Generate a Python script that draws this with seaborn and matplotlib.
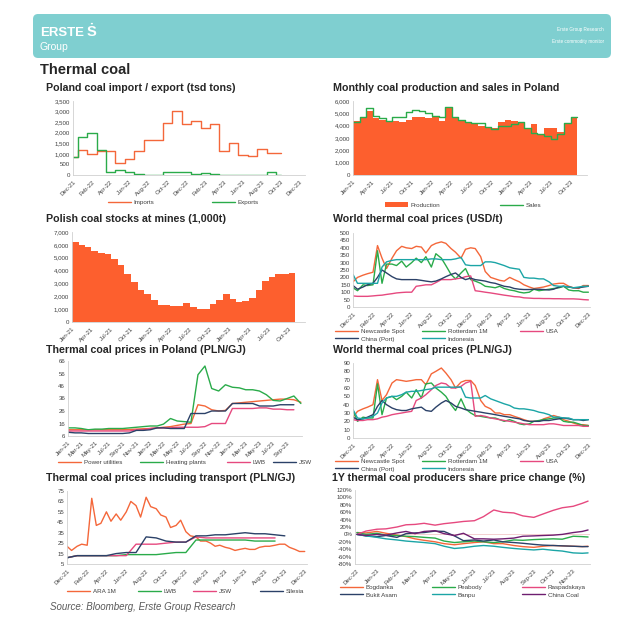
"""
Erste commodity monitor - thermal coal page, rebuilt with seaborn.
"""

import matplotlib
matplotlib.use('Agg')
import matplotlib.pyplot as plt
import matplotlib.ticker as mticker
from matplotlib.patches import FancyBboxPatch, Patch
import seaborn as sns
import numpy as np
import pandas as pd

sns.set_theme(style='white')
plt.rcParams['font.family'] = ['Liberation Sans', 'DejaVu Sans']
plt.rcParams['axes.unicode_minus'] = False

nan = np.nan

# ---------------------------------------------------------------- data
# Poland coal import / export, monthly Dec-21 .. Oct-23 (tsd tons)
trade_months = pd.date_range('2021-12-01', periods=23, freq='MS')
imports = [850, 1200, 1000, 1150, 1150, 550, 750, 1150, 1650, 1650, 2450, 3050,
           2400, 2550, 2200, 2400, 1150, 1500, 950, 900, 1250, 1050, 1050]
exports = [850, 1800, 2000, 1200, 150, 250, 150, 30, 0, 0, 150, 150,
           150, 30, 100, 50, 0, 0, 0, 0, 0, 150, 0]

# Monthly coal production and sales, Jan-21 .. Oct-23
prod_months = pd.date_range('2021-01-01', periods=34, freq='MS')
production = [4400, 4600, 5200, 4600, 4500, 4400, 4400, 4300, 4500, 4700, 4700, 4600,
              4800, 4400, 5500, 4700, 4500, 4300, 4100, 4000, 3900, 3800, 4300, 4500,
              4400, 4300, 3700, 4100, 3300, 3800, 3800, 3500, 4200, 4700]
sales = [4300, 4700, 5400, 4800, 4600, 4400, 4700, 4700, 5100, 5300, 5200, 5000,
         4800, 4700, 5500, 4700, 4500, 4300, 4200, 4200, 3900, 3700, 4000, 4000,
         4100, 4300, 3800, 3400, 3300, 3200, 2950, 3300, 4200, 4700]

# Polish coal stocks at mines, Jan-21 .. Oct-23 (1,000t)
stocks = [6200, 6000, 5800, 5500, 5400, 5300, 4900, 4400, 3700, 3100, 2500, 2200,
          1700, 1350, 1300, 1250, 1250, 1450, 1150, 1000, 1050, 1400, 1750, 2200,
          1800, 1550, 1650, 1850, 2500, 3200, 3500, 3750, 3750, 3800]

# World thermal coal prices, semi-monthly Dec-21 .. Dec-23
world_dates = pd.date_range('2021-12-01', '2023-12-01', freq='SMS')
usd_newcastle = [170, 200, 215, 225, 235, 415, 330, 260, 330, 380, 410, 400, 395, 410, 405,
                 365, 415, 430, 440, 430, 395, 370, 330, 390, 400, 395, 340, 240, 200, 190,
                 180, 175, 200, 185, 170, 150, 135, 125, 130, 135, 145, 155, 160, 160, 140,
                 130, 125, 145, 145]
usd_rotterdam = [130, 110, 150, 145, 150, 380, 160, 290, 290, 280, 310, 270, 300, 330, 300,
                 340, 270, 360, 330, 280, 220, 190, 230, 260, 185, 175, 160, 140, 135, 130,
                 140, 125, 115, 110, 100, 95, 100, 120, 110, 115, 120, 125, 130, 140, 115,
                 110, 110, 100, 100]
usd_usa = [75, 72, 72, 72, 75, 78, 80, 85, 90, 95, 98, 100, 100, 140, 145,
           150, 150, 165, 185, 185, 185, 190, 195, 205, 210, 110, 105, 100, 95, 90,
           85, 80, 75, 70, 68, 62, 60, 58, 58, 57, 57, 56, 56, 55, 55,
           55, 53, 50, 48]
usd_china = [145, 120, 135, 150, 160, 200, 250, 230, 205, 190, 185, 185, 185, 185, 180,
             175, 170, 175, 190, 205, 220, 230, 200, 185, 195, 185, 180, 175, 165, 160,
             150, 140, 135, 125, 120, 118, 118, 120, 120, 118, 115, 120, 135, 140, 135,
             130, 130, 135, 140]
usd_indonesia = [220, 160, 160, 160, 160, 160, 270, 305, 315, 320, 320, 320, 320, 320, 320,
                 320, 325, 325, 320, 320, 320, 325, 335, 285, 280, 280, 280, 305, 305, 300,
                 290, 280, 265, 260, 255, 200, 195, 195, 190, 190, 170, 145, 140, 140, 135,
                 130, 135, 140, 140]

pln_newcastle = [25, 32, 35, 37, 40, 70, 45, 52, 66, 70, 69, 68, 69, 70, 70,
                 64, 77, 80, 84, 78, 70, 60, 67, 69, 69, 63, 45, 38, 35, 30,
                 30, 28, 28, 26, 24, 22, 20, 20, 20, 23, 25, 27, 25, 22, 20,
                 18, 16, 16, 15]
pln_rotterdam = [33, 20, 25, 24, 24, 65, 28, 48, 50, 46, 50, 55, 48, 58, 48,
                 65, 66, 60, 55, 50, 40, 33, 47, 35, 30, 27, 26, 25, 24, 24,
                 22, 20, 22, 20, 17, 16, 17, 20, 21, 22, 23, 24, 24, 20, 19,
                 19, 17, 15, 15]
pln_usa = [22, 21, 21, 22, 22, 23, 25, 26, 28, 29, 30, 31, 32, 45, 48,
           52, 58, 63, 66, 65, 60, 60, 62, 66, 68, 26, 27, 26, 24, 23,
           22, 21, 20, 19, 18, 17, 16, 16, 16, 16, 17, 17, 16, 15, 15,
           15, 15, 14, 14]
pln_china = [25, 22, 23, 25, 28, 38, 45, 40, 36, 34, 33, 33, 35, 36, 37,
             33, 32, 37, 42, 45, 42, 38, 36, 34, 33, 32, 31, 30, 29, 28,
             27, 26, 25, 24, 23, 21, 20, 20, 20, 21, 21, 22, 23, 24, 23,
             22, 22, 21, 22]
pln_indonesia = [34, 24, 23, 24, 26, 30, 42, 48, 50, 50, 52, 55, 56, 56, 57,
                 58, 59, 61, 61, 61, 61, 61, 61, 49, 48, 48, 48, 51, 47, 45,
                 43, 41, 39, 36, 35, 35, 34, 33, 31, 30, 28, 25, 25, 24, 24,
                 22, 22, 22, 22]

# Thermal coal prices in Poland (PLN/GJ), monthly Jan-21 .. Nov-23
pl_months = pd.date_range('2021-01-01', periods=35, freq='MS')
power_utilities = [11, 11, 11, 11, 11, 11, 11, 11, 11, 11.2, 11.5, 11.8, 12, 12.5, 13, 13.5, 14.5,
                   15.5, 16, 31, 30, 27, 26, 26.5, 32, 32.5, 33, 33.5, 34, 34.5, 35, 35.5, 35.5,
                   35, 33]
heating_plants = [12.5, 12.5, 12, 11, 11.5, 11.5, 12, 12, 12, 12.5, 13, 13.5, 14, 14, 15.5, 20, 18,
                  17.5, 17, 55, 62, 44, 42, 47, 45, 44.5, 43, 43, 42, 39, 34.5, 34, 36, 38, 32]
lwb = [10, 10, 10, 10, 10, 10, 10, 10, 10, 10, 11, 11, 12, 12.5, 12.5, 12.5, 13, 13, 13, 13,
       13.5, 16, 16, 16, 28, 28, 28, 28, 28.5, 28.5, 27.5, 27.5, 27, 27, nan]
jsw = [9, 8.5, 8.5, 8, 8, 8, 8, 8, 8, 8.5, 10.5, 10.5, 11, 12.5, 12.5, 12, 12, 12, 24, 24,
       24, 26, 26, 26, 32, 32, 32, 32, 30, 30, 30, 31, 31, 31, nan]

# Thermal coal prices including transport (PLN/GJ)
ara_1m = [22, 18, 22, 24, 23, 68, 42, 44, 55, 46, 53, 47, 55, 65, 61, 50, 69, 60, 58, 52,
          50, 40, 42, 47, 36, 32, 31, 27, 27, 25, 22, 23, 21, 20, 18, 19, 20, 19, 19, 21,
          22, 22, 23, 24, 24, 21, 19, 17, 17]
tr_months = pd.date_range('2021-12-01', periods=23, freq='MS')
tr_lwb = [11, 13, 13, 13, 13, 13, 14, 14, 14, 14, 15, 16, 16, 28, 28, 28, 28, 28, 28, 27,
          27, 27, nan]
tr_jsw = [11, 13, 13, 13, 13, 13, 13, 24, 24, 24, 25, 26, 26, 31, 30, 30, 30, 30, 30, 30,
          30, 30, nan]
tr_silesia = [11, 13, 13, 13, 13, 15, 16, 16, 31, 30, 27, 26, 26, 32, 32, 33, 33, 34, 35, 34,
              34, 33, 32]

# 1Y share price change (%), semi-monthly from Dec-22
share_dates = list(pd.date_range('2022-12-01', '2023-11-16', freq='SMS')) + [pd.Timestamp('2023-11-24')]
bogdanka = [5, 4, 8, 3, -2, -6, -12, -16, -20, -25, -28, -25, -22, -20, -25, -25, -30, -33,
            -35, -32, -30, -31, -32, -33, -32]
peabody = [5, 0, 3, -2, -3, -5, -6, -8, -10, -18, -22, -20, -18, -20, -22, -20, -15, -16,
           -14, -13, -12, -13, -5, -6, -7]
raspadskaya = [0, 9, 14, 15, 20, 26, 27, 30, 25, 29, 32, 35, 37, 48, 66, 60, 58, 50,
               46, 55, 65, 72, 76, 84, 90]
bukit_asam = [0, -4, -6, -3, -8, 2, 4, 5, 9, 8, -4, -17, -15, -18, -15, -20, -22, -24,
              -27, -29, -30, -31, -32, -33, -33]
banpu = [0, -4, -8, -12, -15, -18, -20, -22, -25, -32, -38, -36, -32, -30, -32, -35, -38, -40,
         -42, -40, -43, -45, -50, -51, -50]
china_coal = [0, -3, 0, -2, 4, 8, 2, 8, 10, 2, -3, 3, -12, -12, -13, -12, -10, -5,
              -4, -3, -2, 0, 5, 8, 12]

# ---------------------------------------------------------------- style
ORANGE = '#f4673a'
AREA = '#fd5f2e'
GREEN = '#2aab4a'
PINK = '#e6497f'
NAVY = '#2b4168'
TEAL = '#1ba5a6'
PURPLE = '#6e1e70'
BOX = '#7fcfd0'
TXT = '#404040'

W, H = 640, 640
fig = plt.figure(figsize=(6.4, 6.4), dpi=100)
fig.patch.set_facecolor('white')


def px_axes(left, top, right, bottom):
    """Create axes from pixel bounds (origin top left)."""
    ax = fig.add_axes([left / W, 1 - bottom / H, (right - left) / W, (bottom - top) / H])
    for side in ['top', 'right']:
        ax.spines[side].set_visible(False)
    for side in ['left', 'bottom']:
        ax.spines[side].set_color('#d0d0d0')
        ax.spines[side].set_linewidth(0.6)
    ax.tick_params(axis='both', labelsize=4.4, labelcolor=TXT, length=0, pad=2)
    ax.tick_params(axis='x', length=1.5, color='#d0d0d0', pad=1.5)
    ax.set_facecolor('white')
    ax.grid(False)
    return ax


def date_ticks(ax, ticks, lo, hi):
    ax.set_xlim(pd.Timestamp(lo), pd.Timestamp(hi))
    ax.set_xticks(ticks)
    ax.set_xticklabels([t.strftime('%b-%y') for t in ticks], rotation=45,
                       ha='right', va='top', rotation_mode='anchor')
    ax.set_xlabel('')
    ax.set_ylabel('')


def y_ticks(ax, lo, hi, step, fmt='{x:.0f}'):
    ax.set_ylim(lo, hi)
    ax.set_yticks(np.arange(lo, hi + step / 2, step))
    ax.yaxis.set_major_formatter(mticker.StrMethodFormatter(fmt))


def title(x, y, text):
    fig.text(x / W, 1 - y / H, text, fontsize=7.7, fontweight='bold', va='center', ha='left')


def legend_col(handles, labels, x, y):
    """One legend column; x = left of handle, y = centre of first row (pixels)."""
    fig.legend(handles, labels, loc='upper left', bbox_to_anchor=(x / W, 1 - (y - 3.6) / H),
               frameon=False, fontsize=4.5, handlelength=3.6, handletextpad=0.5,
               borderpad=0, borderaxespad=0, labelspacing=0.4, labelcolor=TXT)


def line(ax, x, y, color, **kw):
    sns.lineplot(x=x, y=y, ax=ax, color=color, lw=1.0, legend=False, **kw)
    return ax.lines[-1]


# ---------------------------------------------------------------- header
fig.add_artist(FancyBboxPatch((33 / W, 1 - 58 / H), (611 - 33) / W, 44 / H,
                              boxstyle='round,pad=0,rounding_size=0.008',
                              transform=fig.transFigure, facecolor=BOX, edgecolor='none'))
fig.text(40 / W, 1 - 33 / H, 'ERSTE', color='white', fontsize=9.5, fontweight='bold', va='center')
fig.text(87 / W, 1 - 32 / H, '\u1E60', color='white', fontsize=10.5, fontweight='bold', va='center',
         family=['Liberation Sans', 'DejaVu Sans'])
fig.text(40 / W, 1 - 47 / H, 'Group', color='white', fontsize=7.5, va='center')
fig.text(604 / W, 1 - 29 / H, 'Erste Group Research', color='white', fontsize=3.3,
         ha='right', va='center')
fig.text(604 / W, 1 - 42 / H, 'Erste commodity monitor', color='white', fontsize=3.3,
         ha='right', va='center')
fig.text(40 / W, 1 - 70 / H, 'Thermal coal', fontsize=10.5, fontweight='bold', va='center')

ticks_2m = pd.date_range('2021-12-01', '2023-12-01', freq='2MS')
ticks_q = pd.date_range('2021-01-01', '2023-10-01', freq='3MS')

# ---------------------------------------------------------------- 1 import / export
title(46, 88, 'Poland coal import / export (tsd tons)')
ax = px_axes(73, 101, 305, 175)
h_imp = line(ax, trade_months, imports, ORANGE, drawstyle='steps-mid')
h_exp = line(ax, trade_months, exports, GREEN, drawstyle='steps-mid')
y_ticks(ax, 0, 3500, 500, '{x:,.0f}')
date_ticks(ax, ticks_2m, '2021-12-01', '2023-12-17')
legend_col([h_imp], ['Imports'], 108, 203)
legend_col([h_exp], ['Exports'], 212, 203)

# ---------------------------------------------------------------- 2 production / sales
title(333, 88, 'Monthly coal production and sales in Poland')
ax = px_axes(353, 101, 587, 175)
step_x = list(prod_months) + [pd.Timestamp('2023-11-01')]
ax.fill_between(step_x, production + production[-1:], step='post', color=AREA, lw=0)
h_sales = line(ax, step_x, sales + sales[-1:], GREEN, drawstyle='steps-post')
y_ticks(ax, 0, 6000, 1000, '{x:,.0f}')
date_ticks(ax, ticks_q, '2021-01-01', '2023-12-16')
legend_col([Patch(facecolor=AREA, edgecolor='none')], ['Production'], 385, 206)
legend_col([h_sales], ['Sales'], 500, 206)

# ---------------------------------------------------------------- 3 stocks
title(46, 219, 'Polish coal stocks at mines (1,000t)')
ax = px_axes(72, 232, 305, 322)
ax.fill_between(step_x, stocks + stocks[-1:], step='post', color=AREA, lw=0)
y_ticks(ax, 0, 7000, 1000, '{x:,.0f}')
date_ticks(ax, ticks_q, '2021-01-01', '2023-12-16')

# ---------------------------------------------------------------- 4 world prices USD
title(333, 219, 'World thermal coal prices (USD/t)')
ax = px_axes(353, 233, 590, 307)
hs = [line(ax, world_dates, v, c) for v, c in
      [(usd_newcastle, ORANGE), (usd_rotterdam, GREEN), (usd_usa, PINK),
       (usd_china, NAVY), (usd_indonesia, TEAL)]]
y_ticks(ax, 0, 500, 50)
date_ticks(ax, ticks_2m, '2021-12-01', '2023-12-06')
legend_col([hs[0], hs[3]], ['Newcastle Spot', 'China (Port)'], 335, 332)
legend_col([hs[1], hs[4]], ['Rotterdam 1M', 'Indonesia'], 422, 332)
legend_col([hs[2]], ['USA'], 520, 332)

# ---------------------------------------------------------------- 5 Poland prices
title(46, 350, 'Thermal coal prices in Poland (PLN/GJ)')
ax = px_axes(68, 361, 302, 436)
hs = [line(ax, pl_months, v, c) for v, c in
      [(power_utilities, ORANGE), (heating_plants, GREEN), (lwb, PINK), (jsw, NAVY)]]
y_ticks(ax, 6, 66, 10)
date_ticks(ax, pd.date_range('2021-01-01', '2023-09-01', freq='2MS'), '2021-01-01', '2023-11-06')
for h, lab, x in zip(hs, ['Power utilities', 'Heating plants', 'LWB', 'JSW'], [58, 140, 227, 273]):
    legend_col([h], [lab], x, 463)

# ---------------------------------------------------------------- 6 world prices PLN
title(333, 350, 'World thermal coal prices (PLN/GJ)')
ax = px_axes(353, 363, 590, 438)
hs = [line(ax, world_dates, v, c) for v, c in
      [(pln_newcastle, ORANGE), (pln_rotterdam, GREEN), (pln_usa, PINK),
       (pln_china, NAVY), (pln_indonesia, TEAL)]]
y_ticks(ax, 0, 90, 10)
date_ticks(ax, ticks_2m, '2021-12-01', '2023-12-06')
legend_col([hs[0], hs[3]], ['Newcastle Spot', 'China (Port)'], 335, 462)
legend_col([hs[1], hs[4]], ['Rotterdam 1M', 'Indonesia'], 422, 462)
legend_col([hs[2]], ['USA'], 520, 462)

# ---------------------------------------------------------------- 7 incl. transport
title(46, 478, 'Thermal coal prices including transport (PLN/GJ)')
ax = px_axes(67, 491, 307, 564)
hs = [line(ax, world_dates, ara_1m, ORANGE),
      line(ax, tr_months, tr_lwb, GREEN),
      line(ax, tr_months, tr_jsw, PINK),
      line(ax, tr_months, tr_silesia, NAVY)]
y_ticks(ax, 5, 75, 10)
date_ticks(ax, ticks_2m, '2021-12-01', '2023-12-08')
for h, lab, x in zip(hs, ['ARA 1M', 'LWB', 'JSW', 'Silesia'], [67, 138, 193, 260]):
    legend_col([h], [lab], x, 592)

# ---------------------------------------------------------------- 8 share prices
title(332, 478, '1Y thermal coal producers share price change (%)')
ax = px_axes(355, 490, 590, 564)
ax.axhline(0, color='#f2c9c9', lw=0.6, zorder=0)
hs = [line(ax, share_dates, v, c) for v, c in
      [(bogdanka, ORANGE), (peabody, GREEN), (raspadskaya, PINK),
       (bukit_asam, NAVY), (banpu, TEAL), (china_coal, PURPLE)]]
y_ticks(ax, -80, 120, 20, '{x:.0f}%')
date_ticks(ax, pd.date_range('2022-12-01', '2023-11-01', freq='MS'), '2022-11-28', '2023-11-27')
legend_col([hs[0], hs[3]], ['Bogdanka', 'Bukit Asam'], 340, 588)
legend_col([hs[1], hs[4]], ['Peabody', 'Banpu'], 432, 588)
legend_col([hs[2], hs[5]], ['Raspadskaya', 'China Coal'], 522, 588)

fig.text(50 / W, 1 - 607 / H, 'Source: Bloomberg, Erste Group Research', fontsize=7,
         style='italic', color='#595959', va='center')

fig.savefig('out.png', dpi=100, facecolor='white')
